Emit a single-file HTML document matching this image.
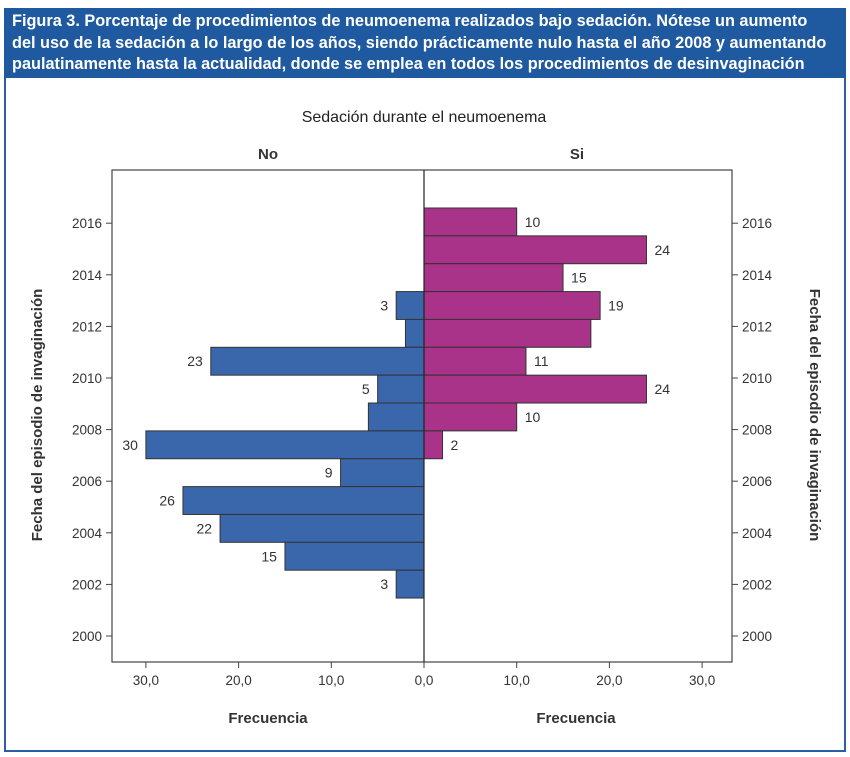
<!DOCTYPE html>
<html><head><meta charset="utf-8"><style>
body{margin:0;background:#fff;font-family:"Liberation Sans",sans-serif}
#frame{position:absolute;left:4px;top:8px;width:838px;height:740px;border:2px solid #2a5fa5}
#hdr{position:absolute;left:4px;top:8px;width:842px;height:70px;background:#1f5aa0;color:#fff;font-weight:bold;font-size:16.3px;line-height:21.5px;padding:3px 0 0 8px;box-sizing:border-box;white-space:nowrap;overflow:hidden}
</style></head><body>
<div id="frame"></div>
<div id="hdr">Figura 3. Porcentaje de procedimientos de neumoenema realizados bajo sedación. Nótese un aumento<br>del uso de la sedación a lo largo de los años, siendo prácticamente nulo hasta el año 2008 y aumentando<br>paulatinamente hasta la actualidad, donde se emplea en todos los procedimientos de desinvaginación</div>
<svg id="chart" width="850" height="757" style="position:absolute;left:0;top:0"></svg>
<script>
const binLabels=["b2016","b2015","b2014","b2013","b2012","b2011","b2010","b2009","b2008","b2007","b2006","b2005","b2004","b2003"];
const siValues=[10,24,15,19,18,11,24,10,2,0,0,0,0,0];
const noValues=[0,0,0,3,2,23,5,6,30,9,26,22,15,3];
const siLabels=["10","24","15","19","","11","24","10","2","","","","",""];
const noLabels=["","","","3","","23","5","","30","9","26","22","15","3"];
const yearTicks=[2000,2002,2004,2006,2008,2010,2012,2014,2016];
const xTicks=[0,10,20,30];
const xTickLabels=["0,0","10,0","20,0","30,0"];

const NS="http://www.w3.org/2000/svg";
const svg=document.getElementById('chart');
const cx=424, pxPer=9.27;
const xR=v=>cx+v*pxPer, xL=v=>cx-v*pxPer;
const yYear=y=>636-(y-2000)*25.8;
const binTop=208, binH=27.86;
const yBin=i=>binTop+i*binH;
function el(t,a,txt){const e=document.createElementNS(NS,t);for(const k in a)e.setAttribute(k,a[k]);if(txt!==undefined)e.textContent=txt;svg.appendChild(e);return e;}
const F='"Liberation Sans",sans-serif';
function text(x,y,s,anchor,size,name,extra){const t=el('text',Object.assign({x:x,y:y,'text-anchor':anchor,'font-size':size,'font-family':F,fill:'#333'},extra||{}),s);

return t;}

const frame=el('rect',{x:112,y:170,width:620,height:492,fill:'none',stroke:'#444','stroke-width':1.2});



siValues.forEach((v,i)=>{if(v<=0)return;
 const r=el('rect',{x:cx,y:yBin(i),width:xR(v)-cx,height:binH,fill:'#a83388',stroke:'#333','stroke-width':1});
 
 
 if(siLabels[i])text(xR(v)+8,yBin(i)+binH/2+5,siLabels[i],'start',14,'value-label-si');});
noValues.forEach((v,i)=>{if(v<=0)return;
 const r=el('rect',{x:xL(v),y:yBin(i),width:cx-xL(v),height:binH,fill:'#3a66ac',stroke:'#333','stroke-width':1});
 
 
 if(noLabels[i])text(xL(v)-8,yBin(i)+binH/2+5,noLabels[i],'end',14,'value-label-no');});

const c=el('line',{x1:cx,y1:170,x2:cx,y2:662,stroke:'#222','stroke-width':1.2});



yearTicks.forEach(y=>{const yy=yYear(y);
 el('line',{x1:106,y1:yy,x2:112,y2:yy,stroke:'#444'});
 el('line',{x1:732,y1:yy,x2:738,y2:yy,stroke:'#444'});
 text(102,yy+5,String(y),'end',13.5,'y-tick-left');
 text(742,yy+5,String(y),'start',13.5,'y-tick-right');});
xTicks.forEach((v,i)=>{
 [xL(v),xR(v)].forEach((x,j)=>{if(v===0&&j===1)return;
  el('line',{x1:x,y1:662,x2:x,y2:668,stroke:'#444'});
  text(x,685,xTickLabels[i],'middle',13.5,'x-tick');});});

text(424,122,'Sedación durante el neumoenema','middle',16,'chart-title',{fill:'#222'});
text(268,159,'No','middle',15,'panel-label-no',{'font-weight':'bold'});
text(577,159,'Si','middle',15,'panel-label-si',{'font-weight':'bold'});
text(268,723,'Frecuencia','middle',15,'x-axis-title-left',{'font-weight':'bold'});
text(576,723,'Frecuencia','middle',15,'x-axis-title-right',{'font-weight':'bold'});
text(0,0,'Fecha del episodio de invaginación','middle',15,'y-axis-title-left',{'font-weight':'bold',transform:'translate(42,415) rotate(-90)'});
text(0,0,'Fecha del episodio de invaginación','middle',15,'y-axis-title-right',{'font-weight':'bold',transform:'translate(810,415) rotate(90)'});
</script>
</body></html>
